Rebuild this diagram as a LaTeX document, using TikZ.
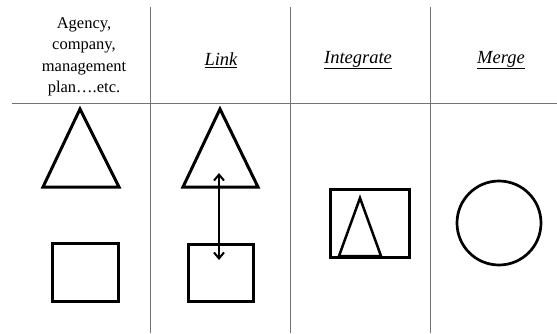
\documentclass[tikz,border=0pt]{standalone}
\usepackage{fontspec}
\setmainfont{Liberation Serif}
\usetikzlibrary{arrows.meta}
\begin{document}
\begin{tikzpicture}[x=1pt,y=-1pt,
  grid/.style={draw=black!55, line width=1pt},
  fig/.style={draw=black, line width=3pt, line join=miter},
  head/.style={font=\fontsize{16.5}{21.5}\selectfont, align=center, inner sep=0pt},
  title/.style={font=\fontsize{18.5}{21}\selectfont\itshape, inner sep=0pt}]
\useasboundingbox (0,0) rectangle (557,333);
% grid
\coordinate (hl) at (12,103);
\coordinate (hr) at (557,103);
\draw[grid] (hl) -- (hr);
\foreach \x/\n in {150/a,290/b,430/c}{
  \coordinate (t\n) at (\x,7);
  \coordinate (b\n) at (\x,333);
  \draw[grid] (t\n) -- (b\n);
}
% headers
\node[head] (h1) at (84,57) {Agency,\\company,\\management\\plan\ldots.etc.};
\node[title] (h2) at (221,60) {\underline{Link}};
\node[title] (h3) at (358,60) {\underline{Integrate}};
\node[title] (h4) at (501,60) {\underline{Merge}};
% column 1
\draw[fig] (80,109) -- (119,187) -- (43,187) -- cycle;
\node[fig, minimum width=66pt, minimum height=58pt, inner sep=0pt] (s1) at (85.5,272.5) {};
% column 2
\draw[fig] (220,109) -- (258,187) -- (183,187) -- cycle;
\node[fig, minimum width=65pt, minimum height=57pt, inner sep=0pt] (s2) at (221,273) {};
\coordinate (aT) at (219,173);
\coordinate (aB) at (219,260);
\draw[line width=2pt, <->, >={Straight Barb[length=6pt,width=10pt]}] (aT) -- (aB);
% column 3
\node[fig, minimum width=79pt, minimum height=68pt, inner sep=0pt] (s3) at (370,223.5) {};
\draw[fig, line width=2.5pt] (360,198) -- (381,256) -- (339,256) -- cycle;
% column 4
\node[fig, circle, minimum size=84pt, inner sep=0pt, line width=2.7pt] (c4) at (499,223) {};
\end{tikzpicture}
\end{document}
